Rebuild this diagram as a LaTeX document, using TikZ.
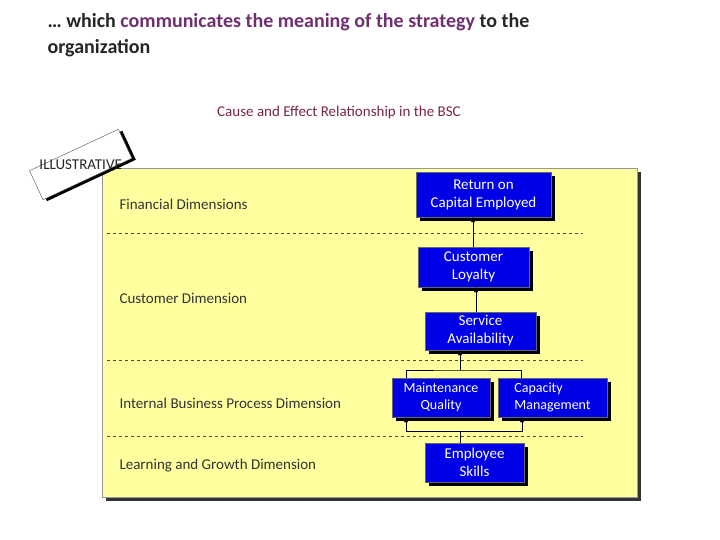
\documentclass[tikz,border=0pt]{standalone}
\usepackage{fontspec}
\setmainfont{Carlito}
\usetikzlibrary{arrows.meta}
\definecolor{purp}{RGB}{112,48,112}
\definecolor{sub}{RGB}{120,40,60}
\definecolor{pan}{RGB}{255,255,160}
\definecolor{bl}{RGB}{0,0,230}
\tikzset{
 bbox/.style={fill=bl,draw=black!60,text=white,align=center,font=\fontsize{15}{17}\selectfont,inner sep=1pt},
 lab/.style={anchor=west,text=black!80,font=\fontsize{15}{17}\selectfont},
 arr/.style={-{Triangle[length=5pt,width=4pt]},black},
 dl/.style={dashed,black!70}
}
\begin{document}
\begin{tikzpicture}[x=1pt,y=-1pt]
\useasboundingbox (0,0) rectangle (720,540);
\node[anchor=north west,align=left,font=\bfseries\fontsize{20}{26}\selectfont,text=black!85] (t) at (44,10) {… which \textcolor{purp}{communicates the meaning of the strategy} to the\\organization};
\node[text=sub,font=\fontsize{15}{17}\selectfont] (st) at (339,113) {Cause and Effect Relationship in the BSC};
% panel
\fill[black!80] (106,172) rectangle (641,501);
\fill[pan,draw=black!40] (102,168) rectangle (637,497);
\draw[dl] (107,233) -- (583,233);
\draw[dl] (107,360) -- (583,360);
\draw[dl] (107,436) -- (583,436);
\node[lab] (f) at (116,204) {Financial Dimensions};
\node[lab] (c) at (116,298) {Customer Dimension};
\node[lab] (i) at (116,403) {Internal Business Process Dimension};
\node[lab] (l) at (116,466) {Learning and Growth Dimension};
% illustrative
\begin{scope}[shift={(82,165)},rotate=25]
\fill[black] (-47,-14) rectangle (51,18);
\fill[white,draw=black!70] (-50,-17) rectangle (48,15);
\node[font=\fontsize{15}{17}\selectfont,text=black!85] (ill) at (-1,-1) {ILLUSTRATIVE};
\end{scope}
% boxes
\newcommand{\bx}[5]{\fill[black] (#1+4,#2+4) rectangle (#3+4,#4+4);
 \node[bbox,minimum width=#3-#1,minimum height=#4-#2,inner sep=0pt] (#5) at ({(#1+#3)/2},{(#2+#4)/2}) {};}
\bx{416}{172}{551}{217}{roce}
\node[text=white,align=center,font=\fontsize{15}{18}\selectfont] at (roce) {Return on\\Capital Employed};
\bx{418}{247}{529}{287}{loy}
\node[text=white,align=center,font=\fontsize{15}{18}\selectfont] at (loy) {Customer\\Loyalty};
\bx{425}{312}{536}{350}{serv}
\node[text=white,align=center,font=\fontsize{15}{18}\selectfont] at (serv) {Service\\Availability};
\bx{392}{378}{490}{417}{mq}
\node[text=white,align=center,font=\fontsize{14}{17}\selectfont] at (mq) {Maintenance\\Quality};
\bx{498}{378}{607}{417}{cm}
\node[text=white,align=left,font=\fontsize{14}{17}\selectfont] at (cm) {Capacity\\Management};
\bx{425}{443}{524}{482}{es}
\node[text=white,align=center,font=\fontsize{15}{18}\selectfont] at (es) {Employee\\Skills};
% connectors
\draw[arr] (loy.north -| 473,0) -- (roce.south -| 473,0);
\draw[arr] (serv.north -| 476,0) -- (loy.south -| 476,0);
\coordinate (j1) at (460,370);
\draw (mq.north -| 406,0) |- (j1) -| (cm.north -| 521,0);
\draw[arr] (j1) -- (serv.south -| 460,0);
\coordinate (j2) at (460,431);
\draw (es.north -| 460,0) -- (j2);
\draw[arr] (j2) -| (mq.south -| 406,0);
\draw[arr] (j2) -| (cm.south -| 522,0);
\end{tikzpicture}
\end{document}
